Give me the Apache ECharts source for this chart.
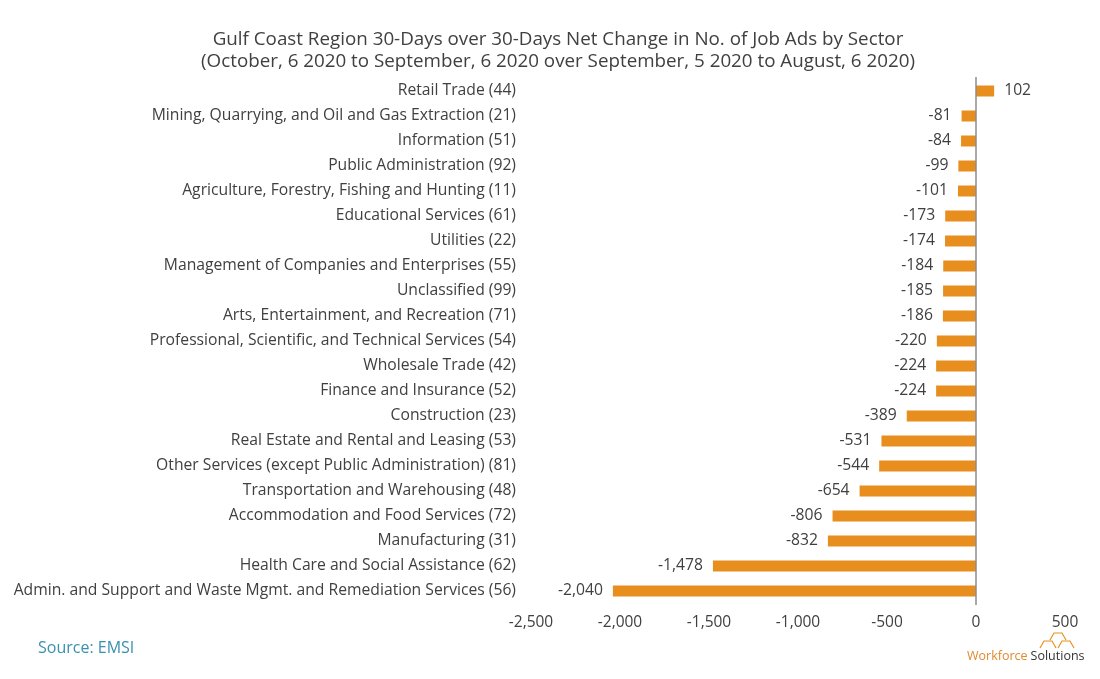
<!DOCTYPE html>
<html><head><meta charset="utf-8">
<script src="https://cdn.jsdelivr.net/npm/echarts@6/dist/echarts.min.js"></script>
<style>html,body{margin:0;padding:0;background:#fff}#c{width:1100px;height:679px}</style>
</head><body><div id="c"></div>
<script>
const categories = [
"Retail Trade (44)",
"Mining, Quarrying, and Oil and Gas Extraction (21)",
"Information (51)",
"Public Administration (92)",
"Agriculture, Forestry, Fishing and Hunting (11)",
"Educational Services (61)",
"Utilities (22)",
"Management of Companies and Enterprises (55)",
"Unclassified (99)",
"Arts, Entertainment, and Recreation (71)",
"Professional, Scientific, and Technical Services (54)",
"Wholesale Trade (42)",
"Finance and Insurance (52)",
"Construction (23)",
"Real Estate and Rental and Leasing (53)",
"Other Services (except Public Administration) (81)",
"Transportation and Warehousing (48)",
"Accommodation and Food Services (72)",
"Manufacturing (31)",
"Health Care and Social Assistance (62)",
"Admin. and Support and Waste Mgmt. and Remediation Services (56)"
];
const values = [102,-81,-84,-99,-101,-173,-174,-184,-185,-186,-220,-224,-224,-389,-531,-544,-654,-806,-832,-1478,-2040];
const xTicks = [-2500,-2000,-1500,-1000,-500,0,500];

const fmt = v => (v<0?'-':'') + Math.abs(v).toLocaleString('en-US');
const FONT = 'Open Sans';
const chart = echarts.init(document.getElementById('c'));
chart.setOption({
  animation:false,
  textStyle:{fontFamily:FONT},
  title:{
    text:'Gulf Coast Region 30-Days over 30-Days Net Change in No. of Job Ads by Sector\n(October, 6 2020 to September, 6 2020 over September, 5 2020 to August, 6 2020)',
    left:553, top:23, textAlign:'center',
    textStyle:{fontFamily:FONT,fontSize:18.8,fontWeight:'normal',color:'#404040',lineHeight:22.5}
  },
  grid:{left:531,right:35,top:78.5,bottom:75.5,containLabel:false},
  xAxis:{type:'value',min:xTicks[0],max:xTicks[xTicks.length-1],interval:500,
    axisLine:{show:false},axisTick:{show:false},splitLine:{show:false},
    axisLabel:{formatter:fmt,color:'#404040',fontSize:15.5,margin:11,fontFamily:FONT}},
  yAxis:{type:'category',data:categories.slice().reverse(),inverse:false,
    axisLine:{show:false,onZero:false},axisTick:{show:false},
    axisLabel:{color:'#404040',fontSize:15.7,margin:15,fontFamily:FONT}},
  series:[{
    type:'bar',
    data:values.slice().reverse().map(v=>({value:v,label:{position:v<0?'left':'right'}})),
    barWidth:11,
    itemStyle:{color:'#E88E1E'},
    label:{show:true,formatter:p=>fmt(p.value),color:'#404040',fontSize:15.7,distance:10,fontFamily:FONT},
    markLine:{silent:true,symbol:'none',label:{show:false},
      lineStyle:{color:'#8c8c8c',type:'solid',width:1.5},
      data:[[{coord:[0,0],y:77},{coord:[0,0],y:605}]]}
  }],
  graphic:[
    {type:'text',left:38,top:640,style:{text:'Source: EMSI',fill:'#3A90B0',font:'16px '+FONT}},
    {type:'text',left:967,top:650,style:{
      text:'{a|Workforce}{b|Solutions}',
      rich:{a:{fill:'#E08A2E',fontSize:12.5,fontFamily:FONT,padding:[0,3,0,0]},b:{fill:'#333',fontSize:12.5,fontFamily:FONT}}}},
    {type:'polyline',shape:{points:[[1040,648],[1044,641],[1052,641],[1056,648]]},style:{stroke:'#E8901E',fill:null,lineWidth:1.2}},
    {type:'polyline',shape:{points:[[1050,640],[1054,633],[1062,633],[1066,640]]},style:{stroke:'#E8901E',fill:null,lineWidth:1.2}},
    {type:'polyline',shape:{points:[[1058,648],[1062,641],[1070,641],[1074,648]]},style:{stroke:'#E8901E',fill:null,lineWidth:1.2}}
  ]
});
</script></body></html>
